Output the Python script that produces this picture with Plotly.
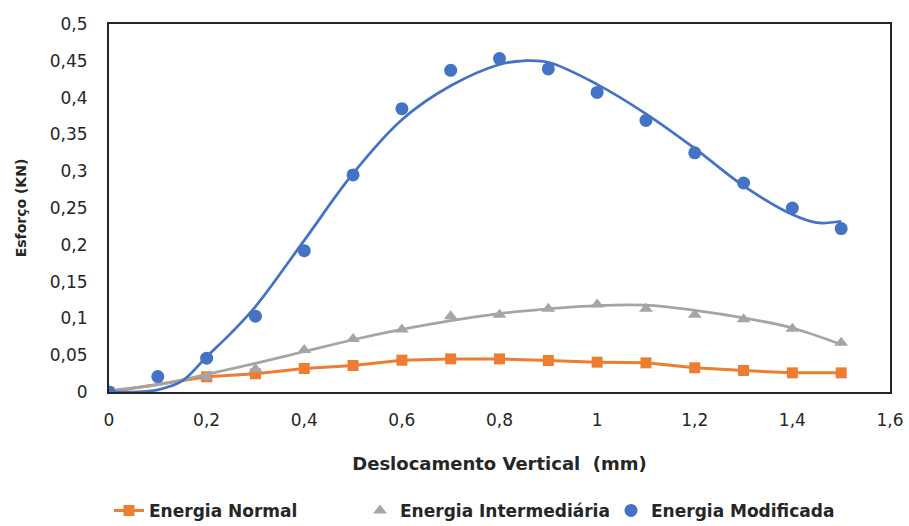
import plotly.graph_objects as go

# Deslocamento vertical (mm) / Esforço (KN)
x_normal = [0, 0.2, 0.3, 0.4, 0.5, 0.6, 0.7, 0.8, 0.9, 1.0, 1.1, 1.2, 1.3, 1.4, 1.5]
y_normal = [0, 0.0206, 0.0247, 0.032, 0.036, 0.0432, 0.045, 0.045, 0.0428, 0.0405, 0.0396, 0.0329, 0.0292, 0.026, 0.026]

x_inter = [0, 0.2, 0.3, 0.4, 0.5, 0.6, 0.7, 0.8, 0.9, 1.0, 1.1, 1.2, 1.3, 1.4, 1.5]
y_inter = [0, 0.020, 0.031, 0.057, 0.072, 0.085, 0.103, 0.105, 0.113, 0.119, 0.113, 0.105, 0.099, 0.086, 0.067]

x_mod = [0, 0.1, 0.2, 0.3, 0.4, 0.5, 0.6, 0.7, 0.8, 0.9, 1.0, 1.1, 1.2, 1.3, 1.4, 1.5]
y_mod = [0, 0.021, 0.046, 0.103, 0.192, 0.295, 0.385, 0.437, 0.453, 0.439, 0.407, 0.369, 0.325, 0.284, 0.250, 0.222]

# Trendlines
x_trend_inter = [0, 0.1, 0.2, 0.3, 0.4, 0.5, 0.6, 0.7, 0.8, 0.9, 1.0, 1.1, 1.2, 1.3, 1.4, 1.5]
y_trend_inter = [0.002, 0.010, 0.024, 0.039, 0.055, 0.071, 0.085, 0.097, 0.1066, 0.113, 0.1175, 0.118, 0.111, 0.1007, 0.087, 0.0645]

x_trend_mod = [0, 0.05, 0.1, 0.15, 0.2, 0.25, 0.3, 0.4, 0.5, 0.6, 0.7, 0.8, 0.85, 0.9, 1.0, 1.1, 1.2, 1.3, 1.4, 1.45, 1.5]
y_trend_mod = [0.0, 0.0, 0.003, 0.015, 0.048, 0.080, 0.116, 0.206, 0.297, 0.370, 0.416, 0.445, 0.450, 0.448, 0.418, 0.378, 0.331, 0.280, 0.241, 0.230, 0.232]

x_ticks = [0, 0.2, 0.4, 0.6, 0.8, 1.0, 1.2, 1.4, 1.6]
x_ticklabels = ["0", "0,2", "0,4", "0,6", "0,8", "1", "1,2", "1,4", "1,6"]
y_ticks = [0, 0.05, 0.1, 0.15, 0.2, 0.25, 0.3, 0.35, 0.4, 0.45, 0.5]
y_ticklabels = ["0", "0,05", "0,1", "0,15", "0,2", "0,25", "0,3", "0,35", "0,4", "0,45", "0,5"]

names = ["Energia Normal", "Energia Intermediária", "Energia Modificada"]
colors = ["#ED7D31", "#A5A5A5", "#4472C4"]

FONT = "'DejaVu Sans', sans-serif"
TXT = "#262626"

fig = go.Figure()
fig.add_trace(go.Scatter(x=x_normal, y=y_normal, mode="lines+markers", name=names[0],
                         line=dict(color=colors[0], width=3),
                         marker=dict(symbol="square", size=11, color=colors[0])))
fig.add_trace(go.Scatter(x=x_trend_inter, y=y_trend_inter, mode="lines", line_shape="spline",
                         line=dict(color=colors[1], width=2.75), showlegend=False, hoverinfo="skip"))
fig.add_trace(go.Scatter(x=x_inter, y=y_inter, mode="markers", name=names[1],
                         marker=dict(symbol="triangle-up", size=12, color=colors[1])))
fig.add_trace(go.Scatter(x=x_trend_mod, y=y_trend_mod, mode="lines", line_shape="spline",
                         line=dict(color=colors[2], width=2.75), showlegend=False, hoverinfo="skip"))
fig.add_trace(go.Scatter(x=x_mod, y=y_mod, mode="markers", name=names[2],
                         marker=dict(symbol="circle", size=13, color=colors[2])))

axis_common = dict(showgrid=False, zeroline=False, showline=True, linecolor="#262626",
                   linewidth=2, mirror=True, ticks="",
                   tickfont=dict(family=FONT, size=17, color=TXT))

fig.update_layout(
    width=909, height=526,
    margin=dict(l=109, r=19, t=24, b=133.5, autoexpand=False),
    paper_bgcolor="white", plot_bgcolor="white",
    font=dict(family=FONT, color=TXT),
    xaxis=dict(range=[0, 1.6], tickvals=x_ticks, ticktext=x_ticklabels,
               ticklabelstandoff=12, automargin=False,
               title=dict(text="<b>Deslocamento Vertical  (mm)</b>",
                          font=dict(family=FONT, size=18, color=TXT), standoff=28),
               **axis_common),
    yaxis=dict(range=[0, 0.5], tickvals=y_ticks, ticktext=y_ticklabels,
               ticklabelstandoff=16, automargin=False,
               title=dict(text="<b>Esforço (KN)</b>",
                          font=dict(family=FONT, size=14, color=TXT), standoff=20),
               **axis_common),
    legend=dict(orientation="h", x=0.0, xanchor="left", y=-0.372, yanchor="bottom",
                font=dict(family=FONT, size=17, color=TXT, weight="bold"),
                entrywidth=206, entrywidthmode="pixels", traceorder="normal"),
)

fig.write_html("out.html")
